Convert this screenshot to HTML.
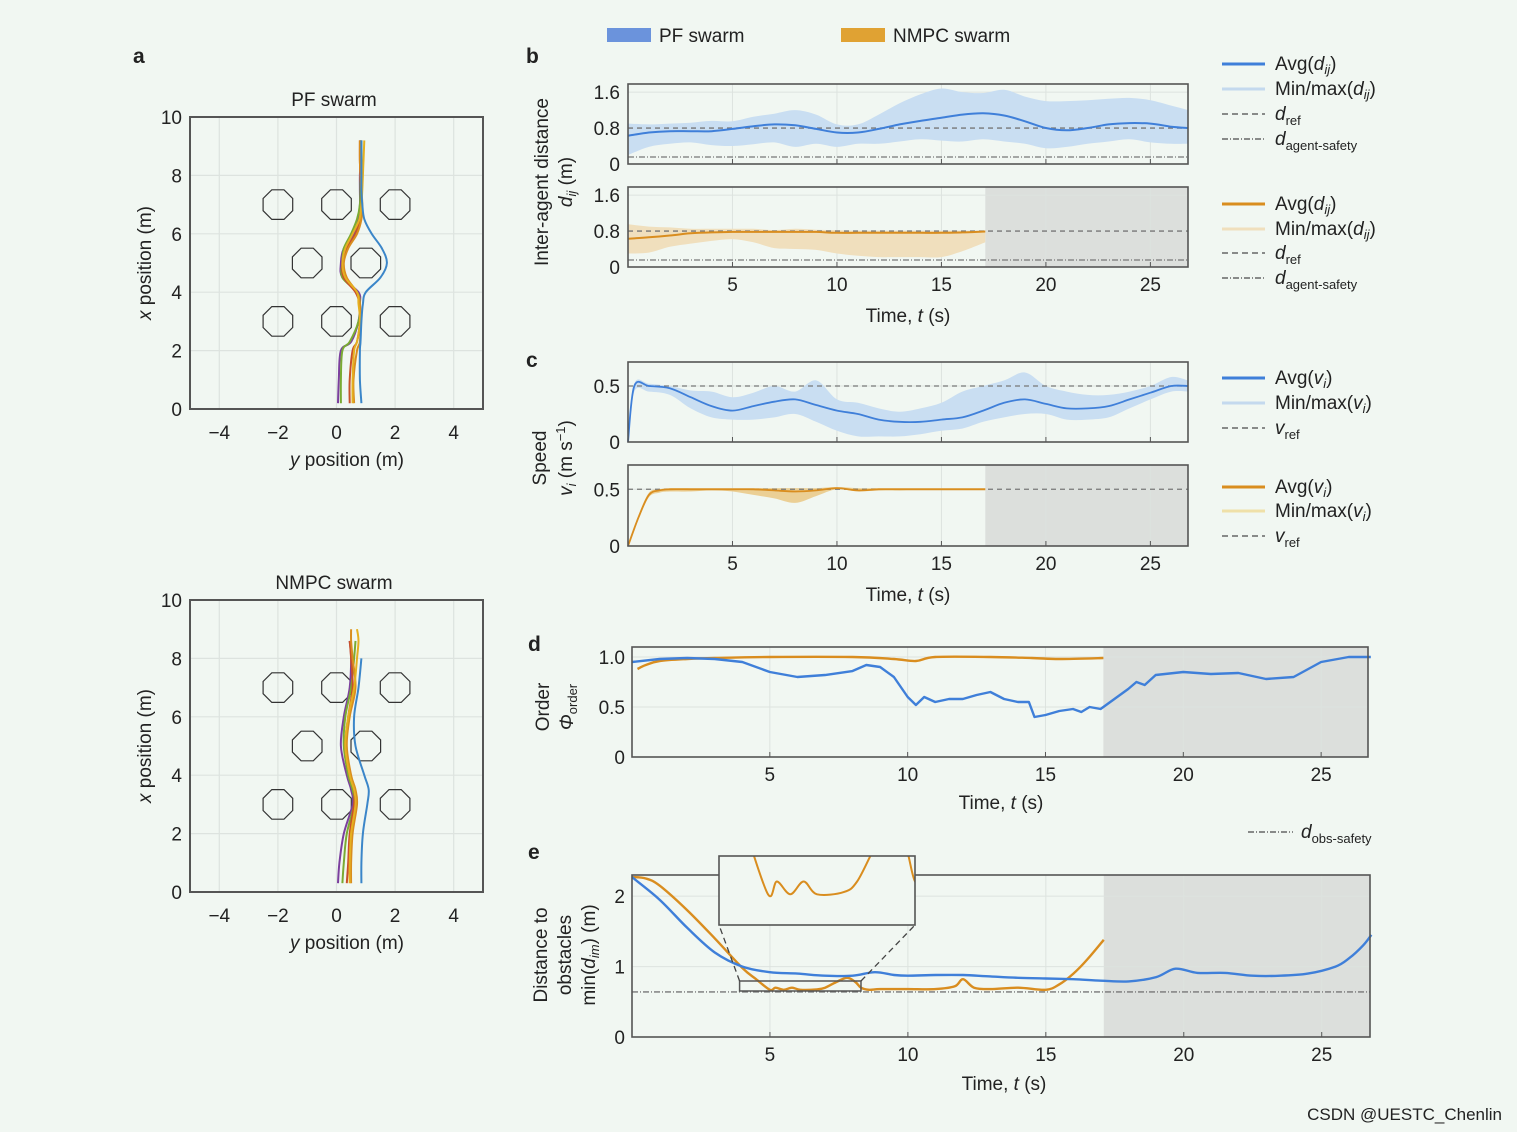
<!DOCTYPE html>
<html><head><meta charset="utf-8">
<style>
html,body{margin:0;padding:0;background:#f1f7f2;}
svg{display:block;font-family:"Liberation Sans",sans-serif;}
text{fill:#222;}
</style></head>
<body>
<svg id="fig" width="1517" height="1132" viewBox="0 0 1517 1132" xmlns="http://www.w3.org/2000/svg">
<rect x="0" y="0" width="1517" height="1132" fill="#f1f7f2"/>
</svg>
<script>
// ---------- DATA ----------
const trajXsPF = [0.2,1,2,2.3,3,3.6,4.0,4.5,5,5.5,6,6.5,7,7.5,8,8.5,9.2];
const pfBlue   = [0.85,0.8,0.8,0.82,0.85,0.9,1.0,1.5,1.72,1.55,1.2,0.95,0.88,0.85,0.85,0.85,0.85];
const pfPurple = [0.05,0.08,0.15,0.5,0.75,0.8,0.75,0.2,0.15,0.25,0.6,0.75,0.8,0.8,0.8,0.82,0.82];
const pfGreen  = [0.15,0.15,0.2,0.45,0.75,0.8,0.7,0.2,0.2,0.25,0.5,0.7,0.8,0.82,0.82,0.85,0.85];
const pfYellow = [0.55,0.55,0.6,0.7,0.8,0.75,0.7,0.3,0.2,0.3,0.55,0.78,0.85,0.88,0.9,0.92,0.95];
const pfOrange = [0.6,0.58,0.7,0.8,0.82,0.8,0.7,0.35,0.25,0.4,0.7,0.85,0.88,0.85,0.82,0.8,0.8];
const pfRed    = [0.45,0.45,0.55,0.7,0.8,0.78,0.65,0.25,0.2,0.35,0.65,0.8,0.85,0.85,0.82,0.8,0.8];
const trajXsN  = [0.3,1,2,3,3.5,4,5,6,7,8,8.6,9];
const nBlue    = [0.85,0.85,0.9,1.05,1.1,0.95,0.65,0.6,0.75,0.85];
const nPurple  = [0.05,0.1,0.25,0.55,0.5,0.35,0.15,0.25,0.45,0.5,0.45];
const nGreen   = [0.2,0.25,0.35,0.6,0.55,0.4,0.25,0.3,0.5,0.6,0.65];
const nYellow  = [0.45,0.45,0.5,0.65,0.6,0.45,0.3,0.4,0.6,0.7,0.75,0.7];
const nOrange  = [0.5,0.5,0.55,0.7,0.65,0.5,0.35,0.45,0.65,0.55,0.5,0.5];
const nRed     = [0.35,0.4,0.45,0.6,0.6,0.45,0.3,0.4,0.55,0.5,0.45];
const obstacleY = [-2,0,2,-1,1,-2,0,2];
const obstacleX = [7,7,7,5,5,3,3,3];

const tB      = [0,1,2,3,4,5,6,7,8,9,10,11,12,13,14,15,16,17,18,19,20,21,22,23,24,25,26,26.8];
const pfAvgD  = [.63,.70,.73,.73,.73,.78,.84,.88,.86,.78,.70,.70,.78,.88,.96,1.03,1.10,1.13,1.08,.95,.80,.75,.80,.88,.91,.90,.83,.80];
const pfMaxD  = [.9,.88,.9,.92,.96,.95,1.05,1.12,1.2,1.1,.88,.88,1.1,1.35,1.55,1.68,1.6,1.58,1.65,1.5,1.4,1.4,1.42,1.45,1.47,1.42,1.3,1.2];
const pfMinD  = [.2,.38,.45,.48,.42,.40,.44,.48,.38,.45,.38,.45,.45,.5,.55,.52,.50,.55,.5,.45,.35,.38,.45,.5,.55,.48,.45,.45];
const tBn     = [0,1,2,3,4,5,6,7,8,9,10,11,12,13,14,15,16,17.1];
const nAvgD   = [.63,.66,.7,.75,.77,.78,.78,.78,.78,.78,.76,.76,.76,.76,.76,.76,.77,.79];
const nMaxD   = [.95,.9,.88,.85,.85,.85,.85,.82,.85,.83,.82,.8,.8,.8,.8,.8,.8,.78];
const nMinD   = [.3,.32,.45,.52,.58,.62,.55,.42,.40,.38,.30,.25,.22,.22,.22,.22,.35,.55];
const dRef = 0.8, dAgentSafety = 0.155;

const tC     = [0,0.3,1,2,3,4,5,6,7,8,9,10,11,12,13,14,15,16,17,18,19,20,21,22,23,24,25,26,26.8];
const pfAvgV = [0,.5,.5,.48,.4,.32,.28,.32,.36,.38,.33,.28,.25,.2,.18,.18,.2,.22,.28,.35,.38,.34,.3,.3,.32,.38,.44,.5,.5];
const pfMaxV = [0,.52,.52,.5,.46,.45,.4,.44,.5,.45,.55,.38,.35,.3,.27,.3,.35,.45,.5,.55,.62,.5,.45,.42,.42,.45,.5,.58,.55];
const pfMinV = [0,.45,.45,.42,.3,.22,.2,.2,.22,.25,.18,.1,.05,.05,.05,.07,.1,.12,.18,.22,.25,.25,.2,.2,.22,.3,.38,.45,.45];
const tCn    = [0,.5,1,1.5,2,3,4,5,6,7,8,9,10,11,12,13,14,15,16,17.1];
const nAvgV  = [0,.25,.45,.49,.5,.5,.5,.5,.5,.49,.48,.49,.51,.49,.5,.5,.5,.5,.5,.5];
const nMaxV  = [0,.27,.47,.5,.51,.51,.51,.51,.51,.51,.51,.51,.52,.51,.51,.51,.51,.51,.51,.51];
const nMinV  = [0,.23,.43,.47,.48,.48,.49,.48,.45,.42,.38,.44,.5,.48,.49,.49,.5,.5,.5,.5];
const vRef = 0.5;

const tD  = [0,1,2,3,4,5,6,7,8,8.5,9,9.5,10,10.3,10.6,11,11.5,12,12.5,13,13.5,14,14.4,14.6,15,15.5,16,16.3,16.6,17,17.5,18,18.3,18.6,19,20,21,22,23,24,25,26,26.8];
const pfOrder = [.95,.98,.99,.98,.95,.85,.80,.82,.86,.92,.90,.80,.60,.52,.60,.55,.58,.58,.62,.65,.58,.55,.55,.40,.42,.46,.48,.45,.50,.48,.58,.68,.75,.72,.82,.85,.83,.84,.78,.80,.95,1.0,1.0];
const tDn = [0.2,0.5,1,2,3,5,8,9.5,10.3,11,13,14.5,15.5,17.1];
const nOrder = [.88,.92,.96,.98,.99,1.0,1.0,.98,.96,1.0,1.0,.99,.98,.99];

const tE   = [0,1,2,3,4,5,6,7,8,8.8,9.5,10,11,12,13,14,15,16,17,18,19,19.7,20.5,21.5,22.5,23.5,24.5,25.5,26,26.5,26.8];
const pfObs = [2.27,1.95,1.55,1.2,1.0,.92,.9,.87,.87,.92,.88,.87,.88,.88,.86,.84,.83,.82,.80,.79,.85,.97,.91,.91,.87,.87,.9,1.0,1.12,1.3,1.45];
const tEn  = [0,.5,1,2,3,4,4.5,5,5.2,5.5,5.8,6.1,6.7,7.0,7.4,7.8,8.1,8.3,8.6,9,10,11,11.7,12,12.4,13,14,15,15.5,16,16.5,17.1];
const nObs = [2.27,2.25,2.15,1.8,1.4,.98,.82,.67,.70,.67,.70,.67,.675,.70,.78,.84,.78,.70,.67,.68,.68,.68,.72,.82,.70,.68,.70,.67,.75,.9,1.1,1.38];
const dObsSafety = 0.64;

const aXTicks = [-4,-2,0,2,4];
const aYTicks = [0,2,4,6,8,10];
const tTicks = [5,10,15,20,25];
const bYTicks = [0,0.8,1.6];
const bYLabels = ['0','0.8','1.6'];
const cYTicks = [0,0.5];
const dYTicks = [0,0.5,1.0];
const dYLabels = ['0','0.5','1.0'];
const eYTicks = [0,1,2];

// ---------- DRAW ----------
const NS='http://www.w3.org/2000/svg';
const svg=document.getElementById('fig');
function mk(tag,attrs,parent){const e=document.createElementNS(NS,tag);for(const k in attrs)e.setAttribute(k,attrs[k]);(parent||svg).appendChild(e);return e;}
function txt(x,y,s,attrs,parent){const e=mk('text',Object.assign({x:x,y:y,'font-size':19},attrs||{}),parent);e.innerHTML=s;return e;}
function lin(d0,d1,r0,r1){return v=>r0+(v-d0)*(r1-r0)/(d1-d0);}
function pts(xs,ys,sx,sy){const p=[];for(let i=0;i<Math.min(xs.length,ys.length);i++)p.push([sx(xs[i]),sy(ys[i])]);return p;}
function smooth(p,start){let d=start?'M'+p[0][0].toFixed(1)+','+p[0][1].toFixed(1):'L'+p[0][0].toFixed(1)+','+p[0][1].toFixed(1);
  for(let i=0;i<p.length-1;i++){const p0=p[Math.max(0,i-1)],p1=p[i],p2=p[i+1],p3=p[Math.min(p.length-1,i+2)];
    const c1=[p1[0]+(p2[0]-p0[0])/6,p1[1]+(p2[1]-p0[1])/6],c2=[p2[0]-(p3[0]-p1[0])/6,p2[1]-(p3[1]-p1[1])/6];
    d+='C'+c1.map(v=>v.toFixed(1)).join(',')+' '+c2.map(v=>v.toFixed(1)).join(',')+' '+p2[0].toFixed(1)+','+p2[1].toFixed(1);}
  return d;}
function linePath(xs,ys,sx,sy){return smooth(pts(xs,ys,sx,sy),true);}
function polyPath(xs,ys,sx,sy){return pts(xs,ys,sx,sy).map((q,i)=>(i?'L':'M')+q[0].toFixed(1)+','+q[1].toFixed(1)).join('');}
function bandPath(xs,hi,lo,sx,sy){return smooth(pts(xs,hi,sx,sy),true)+smooth(pts(xs,lo,sx,sy).reverse(),false)+'Z';}

const BLUE='#3f7fd9', LBLUE='#c9def2', ORANGE='#d98d1f', LORANGE='#f0dfbd', GRID='#dde3df', FRAME='#555';

function trajPanel(top,title,name,sets,xs){
  const sx=lin(-5,5,190,483), sy=lin(0,10,top+292,top);
  const g=mk('g',{});
  
  
  aXTicks.forEach(v=>{mk('line',{x1:sx(v),x2:sx(v),y1:top,y2:top+292,stroke:GRID,'stroke-width':1.2},g);
    const t=txt(sx(v),top+322,(v<0?'\u2212':'')+Math.abs(v),{'text-anchor':'middle'},g);
    
    });
  aYTicks.forEach(v=>{mk('line',{x1:190,x2:483,y1:sy(v),y2:sy(v),stroke:GRID,'stroke-width':1.2},g);
    const t=txt(182,sy(v)+7,String(v),{'text-anchor':'end'},g);
    
    });
  obstacleX.forEach((ox,i)=>{let q=[];for(let k=0;k<8;k++){const a=Math.PI/8+k*Math.PI/4;q.push((sx(obstacleY[i])+16*Math.cos(a)).toFixed(1)+','+(sy(ox)+16*Math.sin(a)).toFixed(1));}
    const p=mk('polygon',{points:q.join(' '),fill:'none',stroke:'#333','stroke-width':1.2},g);
    
    });
  sets.forEach(s=>{const p=mk('path',{d:linePath(s.v,xs,sx,sy),fill:'none',stroke:s.c,'stroke-width':2,'stroke-linejoin':'round'},g);
    
    });
  mk('rect',{x:190,y:top,width:293,height:292,fill:'none',stroke:FRAME,'stroke-width':2},g);
  const tt=txt(334,top-11,title,{'text-anchor':'middle'},g);
  
  
  const xt=txt(347,top+349,'<tspan font-style="italic">y</tspan> position (m)',{'text-anchor':'middle'},g);
  
  
  const yt=txt(0,0,'<tspan font-style="italic">x</tspan> position (m)',{'text-anchor':'middle',transform:`translate(151,${top+146}) rotate(-90)`},g);
  
  
}
trajPanel(117,'PF swarm','pf-trajectory-plot',[
 {v:pfPurple,c:'#7b3f9e'},{v:pfGreen,c:'#7aab33'},{v:pfRed,c:'#c8502a'},{v:pfOrange,c:'#d98d1f'},{v:pfYellow,c:'#e5b020'},{v:pfBlue,c:'#3b86c9'}],trajXsPF);
trajPanel(600,'NMPC swarm','nmpc-trajectory-plot',[
 {v:nPurple,c:'#7b3f9e'},{v:nGreen,c:'#7aab33'},{v:nRed,c:'#c8502a'},{v:nOrange,c:'#d98d1f'},{v:nYellow,c:'#e5b020'},{v:nBlue,c:'#3b86c9'}],trajXsN);

function tsAxes(name,x0,x1,y0,y1,xmax,ymin,ymax,yt,ylab,shadeT,showX,xlabY,labX){
  const sx=lin(0,xmax,x0,x1), sy=lin(ymin,ymax,y1,y0);
  const g=mk('g',{});
  
  
  if(shadeT!=null){const r=mk('rect',{x:sx(shadeT),y:y0,width:x1-sx(shadeT),height:y1-y0,fill:'#dcdfdc'},g);
    
    }
  tTicks.forEach(v=>{mk('line',{x1:sx(v),x2:sx(v),y1:y0,y2:y1,stroke:GRID,'stroke-width':1},g);
    mk('line',{x1:sx(v),x2:sx(v),y1:y1,y2:y1-5,stroke:FRAME,'stroke-width':1},g);
    if(showX){const t=txt(sx(v),xlabY,String(v),{'text-anchor':'middle'},g);
      
      }});
  yt.forEach((v,i)=>{mk('line',{x1:x0,x2:x1,y1:sy(v),y2:sy(v),stroke:GRID,'stroke-width':1},g);
    const t=txt(labX,sy(v)+7,ylab[i],{'text-anchor':'end'},g);
    
    });
  return {g,sx,sy,x0,x1,y0,y1};
}
function frame(a){mk('rect',{x:a.x0,y:a.y0,width:a.x1-a.x0,height:a.y1-a.y0,fill:'none',stroke:FRAME,'stroke-width':1.6},a.g);}
function hline(a,v,dash,name){const l=mk('line',{x1:a.x0,x2:a.x1,y1:a.sy(v),y2:a.sy(v),stroke:'#777','stroke-width':1.3,'stroke-dasharray':dash},a.g);
  
  }
function band(a,xs,hi,lo,c,name){const p=mk('path',{d:bandPath(xs,hi,lo,a.sx,a.sy),fill:c,stroke:'none'},a.g);
  
  }
function line(a,xs,ys,c,w,name,poly){const p=mk('path',{d:poly?polyPath(xs,ys,a.sx,a.sy):linePath(xs,ys,a.sx,a.sy),fill:'none',stroke:c,'stroke-width':w,'stroke-linejoin':'round'},a.g);
  
  }

let A=tsAxes('pf-distance-plot',628,1188,84,164,26.8,0,1.78,bYTicks,bYLabels,null,false,0,620);
band(A,tB,pfMaxD,pfMinD,LBLUE,'pf-distance-band');
hline(A,dRef,'5,4','d-ref-line');hline(A,dAgentSafety,'6,2,1,2','agent-safety-line');
line(A,tB,pfAvgD,BLUE,2,'pf-distance-avg');frame(A);
A=tsAxes('nmpc-distance-plot',628,1188,187,267,26.8,0,1.78,bYTicks,bYLabels,17.1,true,291,620);
band(A,tBn,nMaxD,nMinD,LORANGE,'nmpc-distance-band');
hline(A,dRef,'5,4','d-ref-line');hline(A,dAgentSafety,'6,2,1,2','agent-safety-line');
line(A,tBn,nAvgD,ORANGE,2,'nmpc-distance-avg');frame(A);
A=tsAxes('pf-speed-plot',628,1188,362,442,26.8,0,0.714,cYTicks,['0','0.5'],null,false,0,620);
band(A,tC,pfMaxV,pfMinV,LBLUE,'pf-speed-band');
hline(A,vRef,'5,4','v-ref-line');
line(A,tC,pfAvgV,BLUE,1.8,'pf-speed-avg');frame(A);
A=tsAxes('nmpc-speed-plot',628,1188,465,546,26.8,0,0.714,cYTicks,['0','0.5'],17.1,true,570,620);
band(A,tCn,nMaxV,nMinV,'#ebcf95','nmpc-speed-band');
hline(A,vRef,'5,4','v-ref-line');
line(A,tCn,nAvgV,ORANGE,1.8,'nmpc-speed-avg');frame(A);
A=tsAxes('order-plot',632,1368,647,757,26.7,0,1.1,dYTicks,dYLabels,17.1,true,781,625);
line(A,tDn,nOrder,ORANGE,2.4,'nmpc-order');
line(A,tD,pfOrder,BLUE,2.4,'pf-order',true);frame(A);
A=tsAxes('obstacle-distance-plot',632,1370,875,1037,26.75,0,2.3,eYTicks,['0','1','2'],17.1,true,1061,625);
hline(A,dObsSafety,'6,2,1,2','obs-safety-line');
line(A,tEn,nObs,ORANGE,2.4,'nmpc-obstacle-distance');
line(A,tE,pfObs,BLUE,2.4,'pf-obstacle-distance');
frame(A);
const zr=mk('rect',{x:A.sx(3.9),y:981,width:A.sx(8.3)-A.sx(3.9),height:10,fill:'none',stroke:'#555','stroke-width':1.5},A.g);


mk('line',{x1:A.sx(3.9),y1:981,x2:719,y2:925,stroke:'#444','stroke-width':1.3,'stroke-dasharray':'6,4'},A.g);
mk('line',{x1:A.sx(8.3),y1:981,x2:915,y2:925,stroke:'#444','stroke-width':1.3,'stroke-dasharray':'6,4'},A.g);
const ig=mk('g',{});


mk('clipPath',{id:'insclip'},ig);
mk('rect',{x:719,y:856,width:196,height:69},document.getElementById('insclip'));
mk('rect',{x:719,y:856,width:196,height:69,fill:'#f1f7f2'},ig);
const isx=lin(3.9,8.3,719,915), isy=lin(0.60,0.76,924,856);
const ip=mk('path',{d:linePath(tEn,nObs,isx,isy),fill:'none',stroke:ORANGE,'stroke-width':2,'clip-path':'url(#insclip)'},ig);


mk('rect',{x:719,y:856,width:196,height:69,fill:'none',stroke:'#555','stroke-width':1.6},ig);

function T(x,y,s,name,attrs){const t=txt(x,y,s,attrs);return t;}
function R(x,y,s,name){return T(0,0,s,name,{'text-anchor':'middle',transform:`translate(${x},${y}) rotate(-90)`});}
const tlab='Time, <tspan font-style="italic">t</tspan> (s)';
T(908,322,tlab,'b-x-axis-title',{'text-anchor':'middle'});
T(908,601,tlab,'c-x-axis-title',{'text-anchor':'middle'});
T(1001,809,tlab,'d-x-axis-title',{'text-anchor':'middle'});
T(1004,1090,tlab,'e-x-axis-title',{'text-anchor':'middle'});
R(548,182,'Inter-agent distance','b-y-axis-title');
R(572,182,'<tspan font-style="italic">d</tspan><tspan font-style="italic" font-size="13" dy="4">ij</tspan><tspan dy="-4"> (m)</tspan>','b-y-axis-title-2');
R(546,458,'Speed','c-y-axis-title');
R(572,458,'<tspan font-style="italic">v</tspan><tspan font-style="italic" font-size="13" dy="4">i</tspan><tspan dy="-4"> (m s</tspan><tspan font-size="13" dy="-7">−1</tspan><tspan dy="7">)</tspan>','c-y-axis-title-2');
R(549,707,'Order','d-y-axis-title');
R(573,707,'<tspan font-style="italic">Φ</tspan><tspan font-size="13" dy="4">order</tspan>','d-y-axis-title-2');
R(547,955,'Distance to','e-y-axis-title');
R(571,955,'obstacles','e-y-axis-title-2');
R(595,955,'min(<tspan font-style="italic">d</tspan><tspan font-style="italic" font-size="13" dy="4">im</tspan><tspan dy="-4">) (m)</tspan>','e-y-axis-title-3');

[['a',133,63],['b',526,63],['c',526,367],['d',528,651],['e',528,859]].forEach(p=>{
  T(p[1],p[2],p[0],'panel-label-'+p[0],{'font-weight':'bold','font-size':21});});

let r=mk('rect',{x:607,y:28,width:44,height:14,fill:'#6b93dc'});


T(659,42,'PF swarm','legend-pf-label',{});
r=mk('rect',{x:841,y:28,width:44,height:14,fill:'#e0a233'});


T(893,42,'NMPC swarm','legend-nmpc-label',{});

function leg(y,color,dash,w,label,name){
  const l=mk('line',{x1:1222,x2:1265,y1:y,y2:y,stroke:color,'stroke-width':w,'stroke-dasharray':dash});
  
  
  T(1275,y+6,label,name,{});
}
const sub=(a,b)=>`<tspan font-style="italic">${a}</tspan><tspan font-size="13" dy="5">${b}</tspan>`;
const dij='<tspan font-style="italic">d</tspan><tspan font-style="italic" font-size="13" dy="4">ij</tspan><tspan dy="-4">)</tspan>';
const vi='<tspan font-style="italic">v</tspan><tspan font-style="italic" font-size="13" dy="4">i</tspan><tspan dy="-4">)</tspan>';
leg(64,BLUE,'none',3,'Avg('+dij,'legend-pf-avg-d');
leg(89,'#c4d9ee','none',3,'Min/max('+dij,'legend-pf-minmax-d');
leg(114,'#666','6,4',1.5,sub('d','ref'),'legend-pf-dref');
leg(139,'#666','6,2,1,2',1.5,sub('d','agent-safety'),'legend-pf-safety');
leg(204,ORANGE,'none',3,'Avg('+dij,'legend-nmpc-avg-d');
leg(229,'#f0dfbd','none',3,'Min/max('+dij,'legend-nmpc-minmax-d');
leg(253,'#666','6,4',1.5,sub('d','ref'),'legend-nmpc-dref');
leg(278,'#666','6,2,1,2',1.5,sub('d','agent-safety'),'legend-nmpc-safety');
leg(378,BLUE,'none',3,'Avg('+vi,'legend-pf-avg-v');
leg(403,'#c4d9ee','none',3,'Min/max('+vi,'legend-pf-minmax-v');
leg(428,'#666','6,4',1.5,sub('v','ref'),'legend-pf-vref');
leg(487,ORANGE,'none',3,'Avg('+vi,'legend-nmpc-avg-v');
leg(511,'#efe0a8','none',3,'Min/max('+vi,'legend-nmpc-minmax-v');
leg(536,'#666','6,4',1.5,sub('v','ref'),'legend-nmpc-vref');
const ol=mk('line',{x1:1248,x2:1293,y1:832,y2:832,stroke:'#666','stroke-width':1.5,'stroke-dasharray':'6,2,1,2'});


T(1301,838,sub('d','obs-safety'),'legend-obs-safety',{});

T(1502,1120,'CSDN @UESTC_Chenlin','watermark',{'text-anchor':'end','font-size':17,fill:'#9a9a9a'});
</script>
</body></html>
